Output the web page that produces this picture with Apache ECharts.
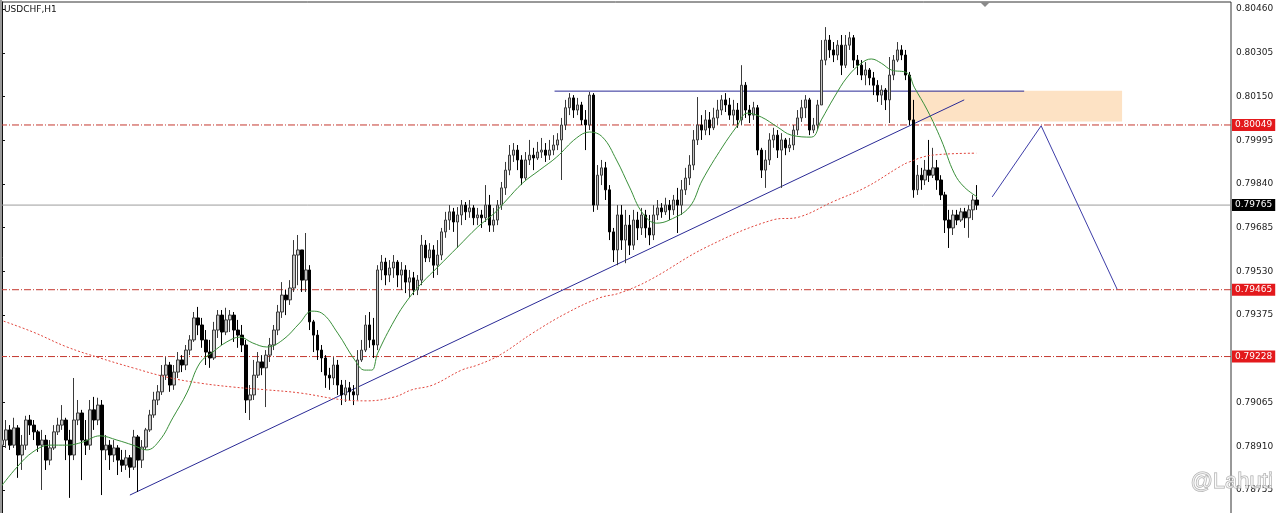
<!DOCTYPE html>
<html><head><meta charset="utf-8">
<script src="https://cdn.jsdelivr.net/npm/echarts@6/dist/echarts.min.js"></script>
<style>html,body{margin:0;padding:0;background:#fff}#c{width:1280px;height:513px}</style>
</head><body><div id="c"></div>
<script>
const symbolName = 'USDCHF,H1';
const watermark = '@Lahuti';
const firstOpen = 0.78914;
const closes = [
0.78932,0.78968,0.78914,0.78975,0.78879,0.78914,0.79003,0.78985,0.78961,0.78914,
0.78932,0.78861,0.78904,0.78961,0.78985,0.79003,0.78932,0.78879,0.79003,0.79028,
0.78932,0.78914,0.79039,0.79003,0.79056,0.78897,0.78914,0.78879,0.78904,0.78861,
0.78843,0.78869,0.78836,0.78943,0.78861,0.78907,0.78968,0.79021,0.79074,0.79103,
0.79162,0.79198,0.79127,0.79173,0.79216,0.79198,0.79251,0.79287,0.79365,0.79340,
0.79287,0.79244,0.79223,0.79322,0.79375,0.79315,0.79358,0.79375,0.79322,0.79304,
0.79269,0.79074,0.79092,0.79162,0.79209,0.79188,0.79233,0.79269,0.79322,0.79386,
0.79446,0.79429,0.79471,0.79588,0.79606,0.79499,0.79535,0.79351,0.79304,0.79251,
0.79223,0.79162,0.79152,0.79198,0.79127,0.79092,0.79117,0.79103,0.79092,0.79216,
0.79251,0.79340,0.79287,0.79269,0.79535,0.79563,0.79517,0.79542,0.79563,0.79517,
0.79535,0.79492,0.79507,0.79464,0.79499,0.79623,0.79578,0.79606,0.79552,0.79588,
0.79670,0.79712,0.79741,0.79705,0.79730,0.79765,0.79741,0.79755,0.79720,0.79730,
0.79720,0.79765,0.79694,0.79712,0.79765,0.79826,0.79889,0.79942,0.79960,0.79925,
0.79861,0.79925,0.79942,0.79932,0.79953,0.79960,0.79942,0.79960,0.79978,0.79996,
0.80049,0.80110,0.80145,0.80102,0.80120,0.80067,0.80049,0.80155,0.79765,0.79871,
0.79897,0.79819,0.79670,0.79606,0.79730,0.79641,0.79694,0.79623,0.79712,0.79684,
0.79730,0.79684,0.79659,0.79730,0.79755,0.79741,0.79765,0.79748,0.79783,0.79765,
0.79819,0.79861,0.79907,0.79996,0.80049,0.80031,0.80067,0.80039,0.80074,0.80102,
0.80138,0.80120,0.80084,0.80102,0.80067,0.80190,0.80102,0.80084,0.80110,0.79960,
0.79889,0.79925,0.79996,0.80013,0.79960,0.79996,0.79968,0.79978,0.80031,0.80074,
0.80110,0.80138,0.80031,0.80049,0.80120,0.80279,0.80350,0.80315,0.80297,0.80332,
0.80261,0.80332,0.80358,0.80279,0.80261,0.80226,0.80244,0.80216,0.80190,0.80155,
0.80173,0.80138,0.80226,0.80279,0.80315,0.80297,0.80226,0.80067,0.79819,0.79871,
0.79854,0.79889,0.79871,0.79897,0.79854,0.79801,0.79712,0.79684,0.79730,0.79712,
0.79741,0.79720,0.79748,0.79783,0.79765];
const highs = [
0.78985,0.79003,0.78985,0.79011,0.78985,0.78950,0.79018,0.79021,0.79003,0.78968,
0.78968,0.78950,0.78932,0.78985,0.79011,0.79056,0.79011,0.78968,0.79152,0.79074,
0.79039,0.79003,0.79074,0.79085,0.79082,0.79074,0.78950,0.78932,0.78932,0.78914,
0.78897,0.78897,0.78879,0.78968,0.78950,0.78932,0.78975,0.79039,0.79103,0.79127,
0.79198,0.79226,0.79209,0.79198,0.79244,0.79233,0.79269,0.79304,0.79386,0.79404,
0.79365,0.79322,0.79287,0.79351,0.79393,0.79393,0.79401,0.79393,0.79386,0.79358,
0.79340,0.79287,0.79127,0.79216,0.79244,0.79233,0.79251,0.79294,0.79340,0.79411,
0.79492,0.79464,0.79499,0.79641,0.79659,0.79606,0.79666,0.79552,0.79358,0.79322,
0.79269,0.79233,0.79188,0.79226,0.79216,0.79145,0.79145,0.79138,0.79127,0.79251,
0.79287,0.79375,0.79386,0.79365,0.79552,0.79588,0.79578,0.79570,0.79588,0.79570,
0.79563,0.79552,0.79535,0.79528,0.79517,0.79659,0.79641,0.79630,0.79623,0.79641,
0.79684,0.79741,0.79765,0.79755,0.79758,0.79783,0.79776,0.79783,0.79765,0.79755,
0.79748,0.79836,0.79801,0.79755,0.79783,0.79847,0.79918,0.79978,0.79985,0.79978,
0.79942,0.79953,0.79996,0.79968,0.79989,0.80003,0.79985,0.79996,0.80013,0.80020,
0.80074,0.80138,0.80162,0.80155,0.80145,0.80131,0.80102,0.80166,0.80162,0.79907,
0.79925,0.79918,0.79836,0.79684,0.79765,0.79765,0.79748,0.79730,0.79748,0.79741,
0.79755,0.79748,0.79730,0.79765,0.79783,0.79772,0.79791,0.79783,0.79801,0.79826,
0.79854,0.79897,0.79942,0.80031,0.80148,0.80084,0.80102,0.80095,0.80110,0.80138,
0.80155,0.80162,0.80145,0.80138,0.80127,0.80261,0.80201,0.80120,0.80131,0.80120,
0.79968,0.79960,0.80020,0.80039,0.80031,0.80020,0.80003,0.80003,0.80049,0.80102,
0.80138,0.80155,0.80145,0.80074,0.80138,0.80350,0.80396,0.80368,0.80343,0.80350,
0.80368,0.80368,0.80379,0.80368,0.80297,0.80279,0.80272,0.80251,0.80237,0.80208,
0.80190,0.80180,0.80290,0.80297,0.80343,0.80332,0.80315,0.80237,0.80138,0.79907,
0.79897,0.79925,0.79996,0.79968,0.79925,0.79871,0.79812,0.79748,0.79748,0.79748,
0.79755,0.79755,0.79765,0.79801,0.79836];
const lows = [
0.78879,0.78904,0.78897,0.78904,0.78798,0.78826,0.78897,0.78950,0.78932,0.78890,
0.78755,0.78826,0.78843,0.78897,0.78950,0.78968,0.78861,0.78727,0.78861,0.78985,
0.78790,0.78879,0.78897,0.78968,0.78985,0.78737,0.78861,0.78826,0.78854,0.78808,
0.78819,0.78826,0.78798,0.78826,0.78748,0.78833,0.78897,0.78961,0.79011,0.79056,
0.79092,0.79145,0.79103,0.79110,0.79152,0.79173,0.79180,0.79233,0.79280,0.79304,
0.79259,0.79198,0.79188,0.79216,0.79294,0.79269,0.79304,0.79315,0.79280,0.79259,
0.79244,0.79028,0.79003,0.79074,0.79152,0.79162,0.79049,0.79209,0.79251,0.79304,
0.79365,0.79375,0.79411,0.79457,0.79481,0.79457,0.79457,0.79322,0.79244,0.79216,
0.79173,0.79117,0.79110,0.79127,0.79092,0.79056,0.79067,0.79074,0.79056,0.79074,
0.79209,0.79244,0.79259,0.79223,0.79251,0.79499,0.79481,0.79492,0.79507,0.79474,
0.79464,0.79453,0.79439,0.79446,0.79446,0.79481,0.79563,0.79563,0.79507,0.79517,
0.79570,0.79649,0.79677,0.79670,0.79613,0.79694,0.79712,0.79720,0.79694,0.79694,
0.79684,0.79705,0.79670,0.79670,0.79694,0.79748,0.79801,0.79871,0.79918,0.79889,
0.79836,0.79854,0.79907,0.79889,0.79925,0.79932,0.79918,0.79925,0.79942,0.79960,
0.79854,0.80031,0.80084,0.80074,0.80084,0.80049,0.79960,0.80031,0.79741,0.79748,
0.79836,0.79783,0.79641,0.79563,0.79552,0.79606,0.79559,0.79588,0.79606,0.79641,
0.79659,0.79649,0.79623,0.79641,0.79712,0.79720,0.79730,0.79712,0.79730,0.79666,
0.79730,0.79801,0.79836,0.79889,0.79978,0.79996,0.80013,0.80013,0.80031,0.80049,
0.80084,0.80095,0.80067,0.80049,0.80039,0.80049,0.80074,0.80056,0.80067,0.79942,
0.79861,0.79826,0.79907,0.79968,0.79932,0.79826,0.79942,0.79953,0.79960,0.80013,
0.80060,0.80074,0.80013,0.80020,0.80031,0.80120,0.80261,0.80287,0.80272,0.80279,
0.80226,0.80251,0.80315,0.80251,0.80226,0.80208,0.80190,0.80190,0.80155,0.80131,
0.80120,0.80102,0.80056,0.80208,0.80272,0.80279,0.80208,0.80049,0.79791,0.79801,
0.79819,0.79836,0.79847,0.79861,0.79819,0.79783,0.79666,0.79613,0.79659,0.79694,
0.79705,0.79684,0.79649,0.79712,0.79748];
// indicator readings: [bar index, price]
const greenMA = [[-0.5,0.78762],[3.75,0.78836],[7.75,0.78890],[12,0.78914],[16.25,0.78914],[20.25,0.78925],[24.5,0.78947],[28.75,0.78932],[32.75,0.78914],[36.25,0.78897],[39.5,0.78932],[42.75,0.79011],[46.25,0.79099],[49.5,0.79205],[52.75,0.79244],[56.25,0.79280],[59.5,0.79297],[62.75,0.79276],[66.25,0.79262],[70.25,0.79287],[74.5,0.79347],[77.5,0.79389],[80,0.79382],[84,0.79311],[88.25,0.79216],[90.75,0.79180],[92.5,0.79180],[94,0.79240],[98.25,0.79358],[101.5,0.79429],[105,0.79488],[109,0.79545],[114,0.79616],[119,0.79687],[123.25,0.79737],[126.25,0.79783],[130.25,0.79843],[134.5,0.79889],[138.75,0.79935],[143.75,0.80003],[147,0.80024],[150.25,0.80006],[153.75,0.79925],[157,0.79829],[160.25,0.79737],[163.75,0.79701],[167,0.79712],[172,0.79758],[175.25,0.79854],[180.25,0.79971],[183.75,0.80042],[186.5,0.80091],[190,0.80077],[194,0.80042],[197.5,0.80013],[202.5,0.80006],[205,0.80067],[208.25,0.80148],[211.5,0.80219],[215,0.80268],[217.5,0.80283],[220,0.80268],[222.5,0.80244],[226.5,0.80233],[228.25,0.80183],[231.5,0.80102],[235,0.79996],[238.25,0.79878],[240.75,0.79829],[244,0.79794]];
const redMA = [[-0.5,0.79358],[7.75,0.79315],[16.25,0.79262],[24.5,0.79223],[32.75,0.79188],[41.25,0.79155],[49.5,0.79134],[57.75,0.79120],[66.25,0.79110],[74.5,0.79099],[85.75,0.79074],[91.25,0.79071],[98.25,0.79085],[102.5,0.79110],[107.75,0.79127],[115,0.79180],[119,0.79198],[124.5,0.79233],[132.75,0.79311],[141.25,0.79382],[149.5,0.79436],[154.5,0.79453],[162,0.79499],[176.25,0.79616],[192.75,0.79712],[199.5,0.79723],[207.75,0.79776],[216.25,0.79829],[224.5,0.79900],[227,0.79918],[232.75,0.79942],[243.75,0.79949]];
const trendLine = [[32,0.78737],[240.75,0.80138]];
const resistanceLine = [[138.25,0.80169],[255.75,0.80169]];
const supplyZone = [[227,0.80170],[280.25,0.80061]];
const projection = [[247.75,0.79794],[260,0.80046],[279,0.79467]];
const redLevels = [0.80049, 0.79465, 0.79228];
const currentPrice = 0.79765;
const yTicks = [0.80460,0.80305,0.80150,0.79995,0.79840,0.79685,0.79530,0.79375,0.79065,0.78910,0.78755];
const totalSlots = 308;

const categories = Array.from({length: totalSlots}, (_, i) => String(i));
const candles = closes.map((c, i) => [i === 0 ? firstOpen : closes[i - 1], c, lows[i], highs[i]]);
const xMin = -0.5, xMax = totalSlots - 0.5;

const font = 'DejaVu Sans';
function levelLabel(bg) {
  return {show: true, position: 'end', distance: 1, formatter: p => Number(p.value).toFixed(5),
    color: '#fff', backgroundColor: bg, padding: [2, 3, 1, 3], fontSize: 9, fontFamily: font};
}
const hidden = {color: 'rgba(0,0,0,0)', width: 1, opacity: 1};
const markLineData = redLevels.map(v => ({yAxis: v, lineStyle: hidden, label: levelLabel('#e3191c')}));
markLineData.push({yAxis: currentPrice, lineStyle: hidden, label: levelLabel('#000')});

const levelSeries = redLevels.map(v => ({type: 'line', xAxisIndex: 1, data: [[xMin, v], [xMax, v]], symbol: 'none', z: 1,
  silent: true, lineStyle: {color: '#c4382f', width: 1, type: [7, 2, 1, 2]}}));

const chart = echarts.init(document.getElementById('c'), null, {renderer: 'canvas'});
chart.setOption({
  animation: false,
  backgroundColor: '#fff',
  grid: {left: 0, top: 2, width: 1231, height: 531.7, show: true, borderColor: '#333', borderWidth: 1,
    containLabel: false, outerBoundsMode: 'none'},
  xAxis: [
    {type: 'category', data: categories, show: false, boundaryGap: true},
    {type: 'value', min: xMin, max: xMax, show: false}
  ],
  yAxis: {
    type: 'value', position: 'right', min: 0.78600, max: 0.80485, scale: true,
    axisLine: {show: true, lineStyle: {color: '#111'}},
    axisTick: {show: true, length: 3, customValues: yTicks, lineStyle: {color: '#111'}},
    axisLabel: {customValues: yTicks, formatter: v => v.toFixed(5), color: '#222', fontSize: 9, fontFamily: font, margin: 5},
    splitLine: {show: false}
  },
  series: [
    {type: 'line', xAxisIndex: 1, data: resistanceLine, symbol: 'none', clip: false, z: 1,
      lineStyle: {color: '#2a2a96', width: 1},
      markArea: {silent: true, itemStyle: {color: '#fde2c4'},
        data: [[{coord: supplyZone[0]}, {coord: supplyZone[1]}]]}},
    ...levelSeries,
    {type: 'line', xAxisIndex: 1, data: [[xMin, currentPrice], [xMax, currentPrice]], symbol: 'none', clip: false, z: 1, silent: true,
      lineStyle: {color: '#9c9c9c', width: 1},
      markLine: {silent: true, symbol: 'none', precision: 5, animation: false, data: markLineData}},
    {type: 'line', xAxisIndex: 1, data: trendLine, symbol: 'none', z: 2,
      lineStyle: {color: '#2a2a96', width: 1}},
    {type: 'candlestick', xAxisIndex: 0, data: candles, barWidth: 3, z: 3,
      itemStyle: {color: '#c4c4c4', color0: '#000', borderColor: '#3a3a3a', borderColor0: '#000', borderWidth: 1}},
    {type: 'line', xAxisIndex: 1, data: redMA, symbol: 'none', smooth: 0.4, z: 4,
      lineStyle: {color: '#e0453c', width: 1, type: [2, 2]}},
    {type: 'line', xAxisIndex: 1, data: greenMA, symbol: 'none', smooth: 0.4, z: 4,
      lineStyle: {color: '#3a8f3a', width: 1}},
    {type: 'line', xAxisIndex: 1, data: projection, symbol: 'none', z: 4,
      lineStyle: {color: '#3d3da8', width: 1}}
  ],
  graphic: [
    {type: 'rect', left: 0, top: 0, shape: {width: 2, height: 513}, style: {fill: '#9a9a9a'}, z: 10},
    {type: 'text', left: 4, top: 5, style: {text: symbolName, fill: '#111', fontSize: 9, fontFamily: font}, z: 10},
    {type: 'polygon', shape: {points: [[980, 2], [990, 2], [985, 7]]}, style: {fill: '#8a8a8a'}, z: 10},
    {type: 'text', left: 1190, top: 470, style: {text: watermark, fill: 'rgba(255,255,255,0.6)', stroke: '#a8a8a8', lineWidth: 1, fontSize: 22, fontFamily: 'Liberation Sans'}, z: 10}
  ]
});
</script></body></html>
